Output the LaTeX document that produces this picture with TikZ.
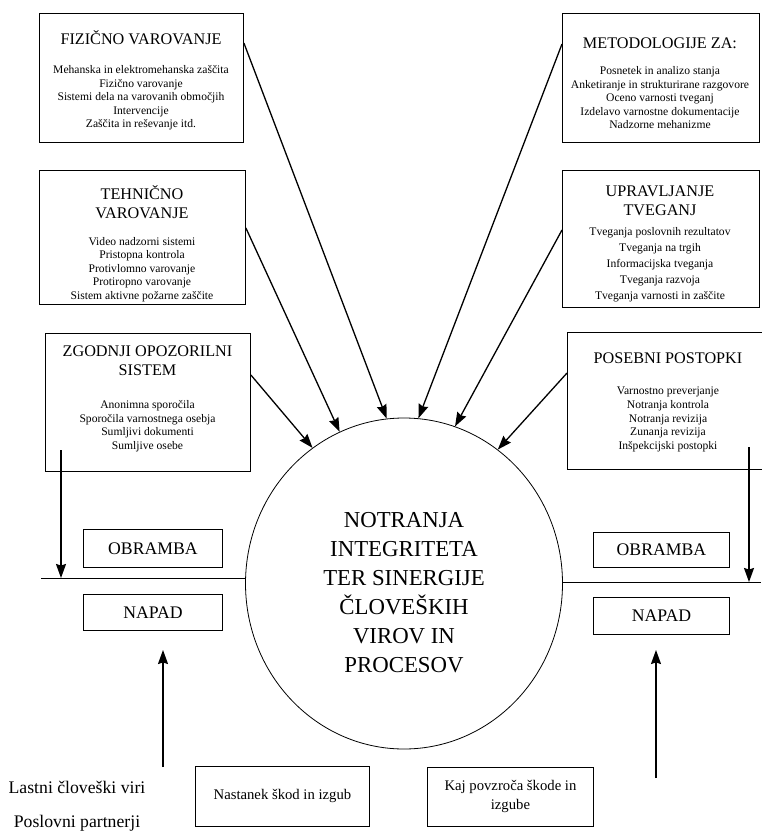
\documentclass[tikz,border=0pt]{standalone}
\usepackage{fontspec}
\setmainfont{Liberation Serif}
\usetikzlibrary{arrows.meta,shapes.geometric,calc}
\begin{document}
\begin{tikzpicture}[x=1pt,y=-1pt,
  box/.style={draw,line width=0.9pt,rectangle,inner sep=0pt,anchor=north west},
  ttl/.style={font=\fontsize{16.2}{19}\selectfont,align=center,inner sep=0pt},
  bdy/.style={font=\fontsize{11.6}{13.5}\selectfont,align=center,inner sep=0pt},
  big/.style={font=\fontsize{17.7}{21}\selectfont,inner sep=0pt},
  mid/.style={font=\fontsize{14.7}{19}\selectfont,align=center,inner sep=0pt},
  arr/.style={line width=1.3pt,-{Stealth[length=14pt,width=10pt,inset=1.5pt]}},
  thin/.style={line width=1pt}
]
\useasboundingbox (0,0) rectangle (761,838);

% upper boxes
\node[box,minimum width=204pt,minimum height=129pt] (fiz) at (39,13) {};
\node[ttl] (fizt) at (141,38) {FIZIČNO VAROVANJE};
\node[bdy] (fizb) at (141,98) {Mehanska in elektromehanska zaščita\\Fizično varovanje\\Sistemi dela na varovanih območjih\\Intervencije\\Zaščita in reševanje itd.};

\node[box,minimum width=206pt,minimum height=134pt] (teh) at (39,170) {};
\node[ttl] (teht) at (142,202.5) {TEHNIČNO\\VAROVANJE};
\node[bdy] (tehb) at (142,269.5) {Video nadzorni sistemi\\Pristopna kontrola\\Protivlomno varovanje\\Protiropno varovanje\\Sistem aktivne požarne zaščite};

\node[box,minimum width=205pt,minimum height=138pt] (zgo) at (45,333) {};
\node[ttl] (zgot) at (147.5,361) {ZGODNJI OPOZORILNI\\SISTEM};
\node[bdy] (zgob) at (147.5,426) {Anonimna sporočila\\Sporočila varnostnega osebja\\Sumljivi dokumenti\\Sumljive osebe};

\node[box,minimum width=197pt,minimum height=129pt] (met) at (562,13) {};
\node[ttl] (mett) at (660,43) {METODOLOGIJE ZA:};
\node[bdy] (metb) at (660,98) {Posnetek in analizo stanja\\Anketiranje in strukturirane razgovore\\Oceno varnosti tveganj\\Izdelavo varnostne dokumentacije\\Nadzorne mehanizme};

\node[box,minimum width=197pt,minimum height=137pt] (upr) at (562,170) {};
\node[ttl] (uprt) at (660,201) {UPRAVLJANJE\\TVEGANJ};
\node[bdy,font=\fontsize{11.6}{16}\selectfont] (uprb) at (660,264.5) {Tveganja poslovnih rezultatov\\Tveganja na trgih\\Informacijska tveganja\\Tveganja razvoja\\Tveganja varnosti in zaščite};

\node[box,minimum width=200pt,minimum height=137pt] (pos) at (567,332) {};
\node[ttl] (post) at (668,358) {POSEBNI POSTOPKI};
\node[bdy,font=\fontsize{11.6}{13.7}\selectfont] (posb) at (668,419.5) {Varnostno preverjanje\\Notranja kontrola\\Notranja revizija\\Zunanja revizija\\Inšpekcijski postopki};

% central circle
\node[ellipse,draw,line width=0.8pt,minimum width=317pt,minimum height=331pt,inner sep=0pt] (c) at (404,583.5) {};
\node[font=\fontsize{22.8}{29}\selectfont,align=center,inner sep=0pt] (ct) at (404,593) {NOTRANJA\\INTEGRITETA\\TER SINERGIJE\\ČLOVEŠKIH\\VIROV IN\\PROCESOV};

% arrows into circle
\draw[arr] ([yshift=-42pt]zgo.north east) -- (c.124);
\draw[arr] ([yshift=-58pt]teh.north east) -- (c.113);
\draw[arr] ([yshift=-30pt]fiz.north east) -- (c.96.6);
\draw[arr] ([yshift=-31pt]met.north west) -- (c.85.5);
\draw[arr] ([yshift=-60pt]upr.north west) -- (c.72);
\draw[arr] ([yshift=-41pt]pos.north west) -- (c.55);

% horizontal lines
\coordinate (hl) at (41,578);
\coordinate (hr) at (761,582);
\draw[thin] (hl) -- (hl -| c.west);
\draw[thin] (hr -| c.east) -- (hr);

% defence / attack boxes
\node[box,minimum width=139pt,minimum height=38pt] (obl) at (83,529) {};
\node[big] at (obl.center) {OBRAMBA};
\node[box,minimum width=139pt,minimum height=36pt] (nal) at (83,594) {};
\node[big] at (nal.center) {NAPAD};
\node[box,minimum width=136pt,minimum height=35pt] (obr) at (593,532) {};
\node[big] at (obr.center) {OBRAMBA};
\node[box,minimum width=136pt,minimum height=37pt] (nar) at (593,597) {};
\node[big] at (nar.center) {NAPAD};

% vertical arrows down to the lines
\coordinate (dl) at (61,450);
\draw[arr] (dl) -- (dl |- hl);
\coordinate (dr) at (749,447);
\draw[arr] (dr) -- (dr |- hr);

% upward arrows
\coordinate (ul0) at (163,767);
\coordinate (ul1) at (163,650);
\draw[arr] (ul0) -- (ul1);
\coordinate (ur0) at (656,778);
\coordinate (ur1) at (656,650);
\draw[arr] (ur0) -- (ur1);

% bottom texts and boxes
\node[big] (las) at (77,787) {Lastni človeški viri};
\node[big] (psl) at (77,823) {Poslovni partnerji};
\node[box,minimum width=174pt,minimum height=60pt] (nas) at (195,766) {};
\node[mid] at (nas.center) {Nastanek škod in izgub};
\node[box,minimum width=166pt,minimum height=59pt] (kaj) at (427,767) {};
\node[mid] at (kaj.center) {Kaj povzroča škode in\\izgube};
\end{tikzpicture}
\end{document}
